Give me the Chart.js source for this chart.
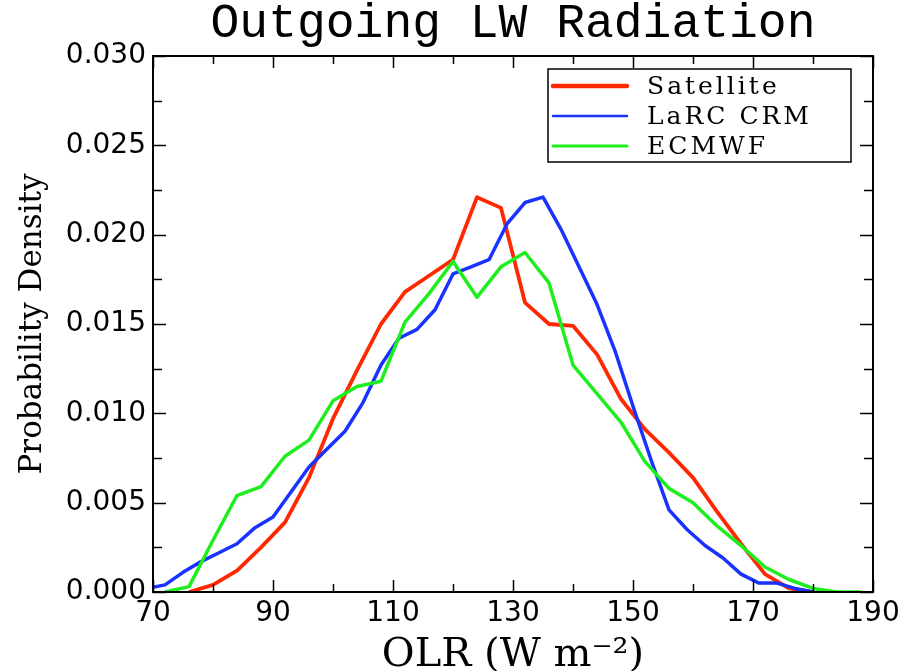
<!DOCTYPE html>
<html><head><meta charset="utf-8">
<script src="https://cdn.jsdelivr.net/npm/chart.js@4.4.0/dist/chart.umd.min.js"></script>
<style>html,body{margin:0;padding:0;background:#fff}canvas{display:block}</style>
</head><body>
<canvas id="c" width="918" height="671"></canvas>
<script>
const chartTitle = 'Outgoing LW Radiation';
const xAxisTitle = 'OLR (W m\u207B\u00B2)';
const yAxisTitle = 'Probability Density';
const seriesNames = ['Satellite', 'LaRC CRM', 'ECMWF'];

const satelliteX = [76,80,84,88,92,96,100,104,108,112,116,120,124,128,132,136,140,144,148,152,156,160,164,168,172,176,180];
const satelliteY = [0.0000,0.0004,0.0012,0.0025,0.0039,0.0064,0.0097,0.0124,0.0150,0.0168,0.0177,0.0186,0.0221,0.0215,0.0162,0.0150,0.0149,0.0133,0.0108,0.0091,0.0078,0.0064,0.0045,0.0027,0.0010,0.0002,0.0000];

const crmX = [69,72,75,78,81,84,87,90,93,96,99,102,105,108,111,114,117,120,123,126,129,132,135,138,141,144,147,150,153,156,159,162,165,168,171,174,177,180];
const crmY = [0.0002,0.0004,0.0011,0.0017,0.0022,0.0027,0.0036,0.0042,0.0056,0.0070,0.0080,0.0090,0.0106,0.0127,0.0142,0.0147,0.0158,0.0178,0.0182,0.0186,0.0206,0.0218,0.0221,0.0203,0.0182,0.0161,0.0135,0.0104,0.0074,0.0046,0.0035,0.0026,0.0019,0.0010,0.0005,0.0005,0.0002,0.0000];

const ecmwfX = [72,76,80,84,88,92,96,100,104,108,112,116,120,124,128,132,136,140,144,148,152,156,160,164,168,172,176,180,184,188];
const ecmwfY = [0.0000,0.0003,0.0029,0.0054,0.0059,0.0076,0.0085,0.0107,0.0115,0.0118,0.0151,0.0167,0.0185,0.0165,0.0182,0.0190,0.0173,0.0127,0.0111,0.0095,0.0073,0.0058,0.0050,0.0037,0.0026,0.0014,0.0007,0.0002,0.0000,0.0000];

const xTickLabels = ['70','90','110','130','150','170','190'];
const yTickLabels = ['0.000','0.005','0.010','0.015','0.020','0.025','0.030'];

const colors = ['rgb(255,40,0)', 'rgb(25,50,255)', 'rgb(30,238,30)'];

function pts(xs, ys) { return xs.map((v, i) => ({ x: v, y: ys[i] })); }
function isMajorY(v) { return Math.abs(v * 200 - Math.round(v * 200)) < 1e-6 && yTickLabels.includes(v.toFixed(3)); }

const frame = {
  id: 'frame',
  afterDatasetsDraw(chart) {
    const { ctx, chartArea: a, scales: { x, y } } = chart;
    ctx.save();
    ctx.strokeStyle = '#000';
    ctx.lineWidth = 1.5;
    const line = (x1, y1, x2, y2) => { ctx.beginPath(); ctx.moveTo(x1, y1); ctx.lineTo(x2, y2); ctx.stroke(); };
    x.ticks.forEach(t => {
      const px = Math.round(x.getPixelForValue(t.value)) + 0.5;
      const L = xTickLabels.includes(String(t.value)) ? 12 : 8;
      line(px, a.bottom, px, a.bottom - L);
      line(px, a.top, px, a.top + L);
    });
    y.ticks.forEach(t => {
      const py = Math.round(y.getPixelForValue(t.value)) + 0.5;
      const L = isMajorY(t.value) ? 13 : 9;
      line(a.left, py, a.left + L, py);
      line(a.right, py, a.right - L, py);
    });
    ctx.lineWidth = 2;
    ctx.strokeRect(a.left, a.top, a.right - a.left, a.bottom - a.top);
    ctx.restore();
  }
};

const boxLegend = {
  id: 'boxLegend',
  afterDraw(chart) {
    const { ctx, chartArea: a } = chart;
    const bw = 303, bh = 93;
    const bx = a.right - 22 - bw, by = a.top + 13;
    ctx.save();
    ctx.fillStyle = '#fff';
    ctx.fillRect(bx, by, bw, bh);
    ctx.strokeStyle = '#000';
    ctx.lineWidth = 1.5;
    ctx.strokeRect(bx, by, bw, bh);
    const widths = [4.5, 2.5, 3];
    chart.data.datasets.forEach((ds, i) => {
      const ry = by + 17 + i * 30;
      ctx.strokeStyle = ds.borderColor;
      ctx.lineWidth = widths[i];
      ctx.lineCap = 'round';
      ctx.beginPath(); ctx.moveTo(bx + 5, ry); ctx.lineTo(bx + 79, ry); ctx.stroke();
      ctx.fillStyle = '#000';
      ctx.font = '25px "DejaVu Serif"';
      if ('letterSpacing' in ctx) ctx.letterSpacing = '3px';
      ctx.textBaseline = 'middle';
      ctx.textAlign = 'left';
      ctx.fillText(ds.label, bx + 99, ry + 1);
    });
    ctx.restore();
  }
};

new Chart(document.getElementById('c'), {
  type: 'line',
  data: {
    datasets: [
      { label: seriesNames[0], data: pts(satelliteX, satelliteY), borderColor: colors[0], borderWidth: 3.8, order: 2 },
      { label: seriesNames[1], data: pts(crmX, crmY), borderColor: colors[1], borderWidth: 3.5, order: 1 },
      { label: seriesNames[2], data: pts(ecmwfX, ecmwfY), borderColor: colors[2], borderWidth: 3.5, order: 0 }
    ]
  },
  options: {
    responsive: false,
    animation: false,
    devicePixelRatio: 1,
    layout: { padding: { left: 0, right: 45, top: 0, bottom: 0 } },
    elements: { point: { radius: 0 }, line: { tension: 0, fill: false, borderJoinStyle: 'round' } },
    datasets: { line: { clip: 0 } },
    plugins: {
      legend: { display: false },
      tooltip: { enabled: false },
      title: {
        display: true, text: chartTitle, fullSize: false, color: '#000',
        font: { family: '"Liberation Mono"', size: 48, weight: 'normal', lineHeight: 1 },
        padding: { top: 0, bottom: 8 }
      }
    },
    scales: {
      x: {
        type: 'linear', min: 70, max: 190,
        afterFit(s) { s.height = 79; },
        grid: { display: false, drawTicks: false, tickLength: 0 }, border: { display: false },
        ticks: {
          stepSize: 10, autoSkip: false, maxRotation: 0, padding: 5, color: '#000',
          font: { family: '"DejaVu Sans"', size: 28 },
          callback: v => xTickLabels.includes(String(v)) ? String(v) : ''
        },
        title: { display: true, text: xAxisTitle, color: '#000',
          font: { family: '"DejaVu Serif"', size: 40, lineHeight: 0.75 }, padding: { top: 0, bottom: 0 } }
      },
      y: {
        type: 'linear', min: 0, max: 0.03,
        afterFit(s) { s.width = 153; },
        grid: { display: false, drawTicks: false, tickLength: 0 }, border: { display: false },
        ticks: {
          stepSize: 0.0025, autoSkip: false, padding: 7, color: '#000',
          font: { family: '"DejaVu Sans"', size: 28 },
          callback: v => isMajorY(v) ? v.toFixed(3) : ''
        },
        title: { display: true, text: yAxisTitle, color: '#000',
          font: { family: '"DejaVu Serif"', size: 31, lineHeight: 1.2 }, padding: { top: 14, bottom: 0 } }
      }
    }
  },
  plugins: [frame, boxLegend]
});
</script>
</body></html>
